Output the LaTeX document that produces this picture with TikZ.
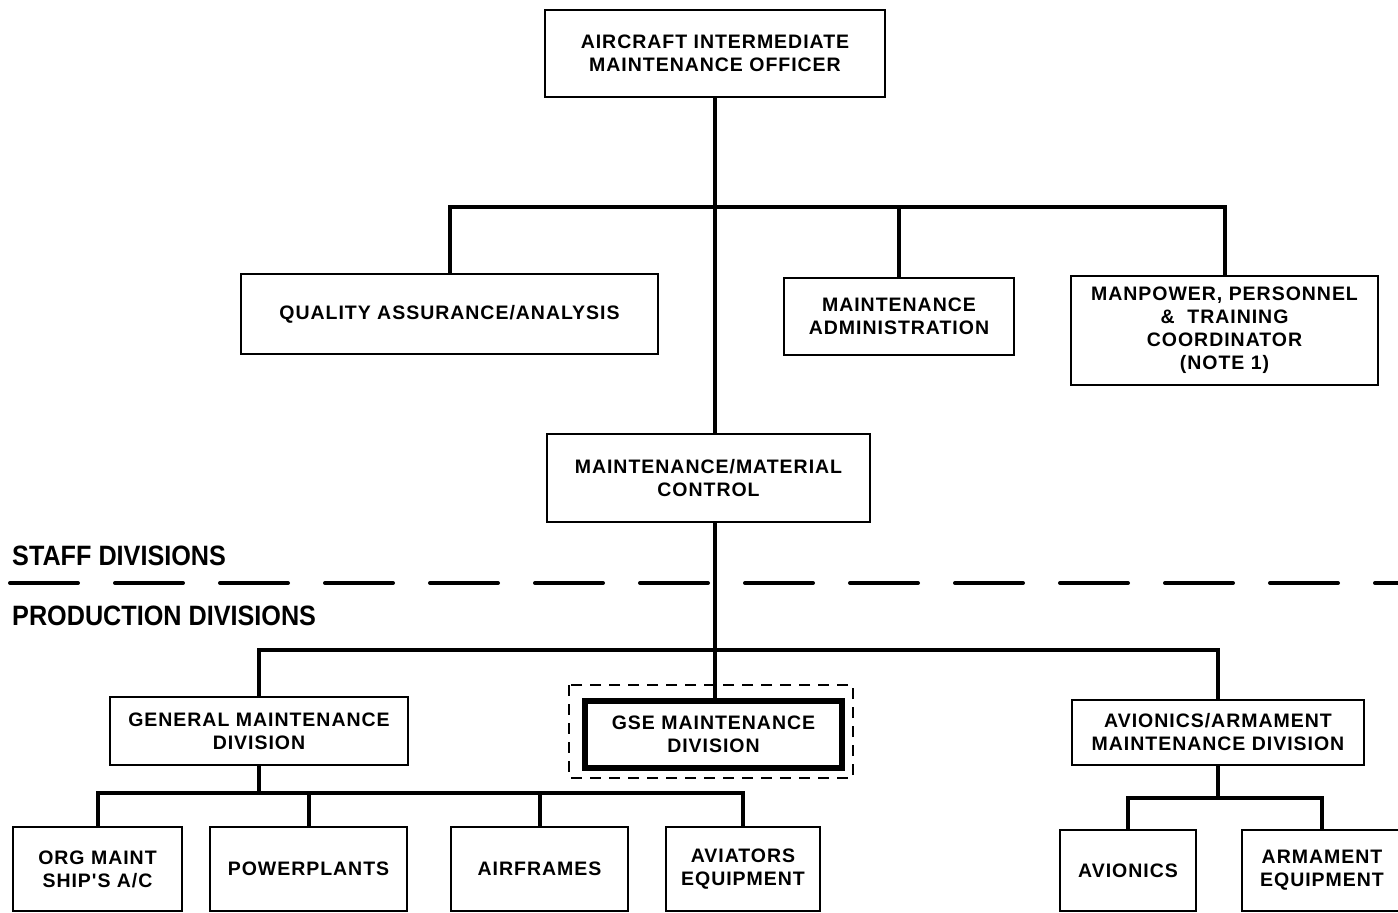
\documentclass[tikz,border=0pt]{standalone}
\usepackage{fontspec}
\setmainfont{Liberation Sans}
\newfontfamily\condfont[FakeStretch=0.9]{Liberation Sans}
\newfontfamily\boxfont[LetterSpace=5]{Liberation Sans}
\begin{document}
\begin{tikzpicture}[x=1pt,y=-1pt,
  box/.style={draw=black, line width=2.2pt, align=center, inner sep=0pt, outer sep=0pt,
    font=\boxfont\fontsize{19.5}{23}\selectfont\bfseries},
  heavybox/.style={box, line width=6pt},
  conn/.style={line width=4pt, line join=miter},
  divline/.style={line width=4pt, line cap=round, dash pattern=on 68pt off 37pt},
  gsedash/.style={line width=2pt, dash pattern=on 11pt off 8pt},
  divlabel/.style={anchor=base west, inner sep=0pt, font=\condfont\fontsize{28}{30}\selectfont\bfseries}]
\useasboundingbox[fill=white] (0,0) rectangle (1398,913);

% boxes
\node[box, minimum width=340pt, minimum height=87pt] (top) at (715,53.5)
  {AIRCRAFT INTERMEDIATE\\MAINTENANCE OFFICER};
\node[box, minimum width=417pt, minimum height=80pt] (qa) at (449.5,314)
  {QUALITY ASSURANCE/ANALYSIS};
\node[box, minimum width=230pt, minimum height=77pt] (ma) at (899,316.5)
  {MAINTENANCE\\ADMINISTRATION};
\node[box, minimum width=307pt, minimum height=109pt] (mp) at (1224.5,330.5)
  {MANPOWER, PERSONNEL\\\&\ \ TRAINING\\COORDINATOR\\(NOTE 1)};
\node[box, minimum width=323pt, minimum height=88pt] (mmc) at (708.5,478)
  {MAINTENANCE/MATERIAL\\CONTROL};

\node[box, minimum width=298pt, minimum height=68pt] (gm) at (259,731)
  {GENERAL MAINTENANCE\\DIVISION};
\node[heavybox, minimum width=257pt, minimum height=67pt] (gse) at (713.5,734.5)
  {GSE MAINTENANCE\\DIVISION};
\node[box, minimum width=292pt, minimum height=65pt] (aa) at (1218,732.5)
  {AVIONICS/ARMAMENT\\MAINTENANCE DIVISION};

\node[box, minimum width=169pt, minimum height=84pt] (org) at (97.5,869)
  {ORG MAINT\\SHIP'S A/C};
\node[box, minimum width=197pt, minimum height=84pt] (pp) at (308.5,869)
  {POWERPLANTS};
\node[box, minimum width=177pt, minimum height=84pt] (af) at (539.5,869)
  {AIRFRAMES};
\node[box, minimum width=154pt, minimum height=84pt] (ae) at (743,869)
  {AVIATORS\\EQUIPMENT};
\node[box, minimum width=136pt, minimum height=81pt] (av) at (1128,870.5)
  {AVIONICS};
\node[box, minimum width=160pt, minimum height=81pt] (arm) at (1322,870.5)
  {ARMAMENT\\EQUIPMENT};

% dashed frame round GSE
\draw[gsedash] ([shift={(-16,-16)}]gse.north west) rectangle ([shift={(11,10)}]gse.south east);

% bus coordinates
\coordinate (bus1) at (715,207);
\coordinate (bus2) at (715,650);
\coordinate (bus3) at (259,793);
\coordinate (bus4) at (1218,798);

% connectors
\draw[conn] (top.south) -- (top.south |- mmc.north);
\draw[conn] (qa.north) |- (bus1) -| (mp.north);
\draw[conn] (ma.north) -- (ma.north |- bus1);
\draw[conn] (top.south |- mmc.south) -- (top.south |- gse.north);
\draw[conn] (gm.north) |- (bus2) -| (aa.north);
\draw[conn] (gm.south) -- (bus3);
\draw[conn] (org.north) |- (bus3) -| (ae.north);
\draw[conn] (pp.north) -- (pp.north |- bus3);
\draw[conn] (af.north) -- (af.north |- bus3);
\draw[conn] (aa.south) -- (bus4);
\draw[conn] (av.north) |- (bus4) -| (arm.north);

% staff / production divide
\coordinate (dl) at (10,583);
\coordinate (dr) at (1400,583);
\draw[divline] (dl) -- (dr);
\node[divlabel] (staff) at (12,565) {STAFF DIVISIONS};
\node[divlabel] (prod) at (12,625) {PRODUCTION DIVISIONS};
\end{tikzpicture}
\end{document}
